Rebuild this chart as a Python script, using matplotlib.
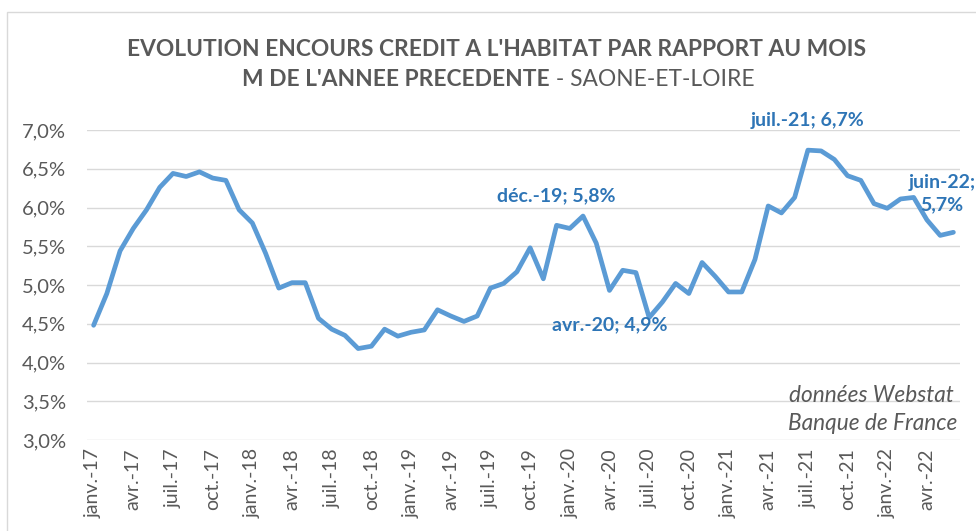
import numpy as np
import matplotlib
matplotlib.use("Agg")
import matplotlib.pyplot as plt
from matplotlib.patches import Rectangle
from matplotlib.ticker import FuncFormatter

# evolution mensuelle (%) janv.-17 -> juin-22
mois = ["janv.", "févr.", "mars", "avr.", "mai", "juin",
        "juil.", "août", "sept.", "oct.", "nov.", "déc."]
annees = ["17", "18", "19", "20", "21", "22"]
labels = [f"{m}-{a}" for a in annees for m in mois][:66]

valeurs = [4.48, 4.89, 5.44, 5.73, 5.97, 6.26, 6.44, 6.40, 6.46, 6.38, 6.35, 5.97,
           5.80, 5.41, 4.96, 5.03, 5.03, 4.57, 4.43, 4.35, 4.18, 4.21, 4.43, 4.34,
           4.39, 4.42, 4.68, 4.60, 4.53, 4.60, 4.96, 5.02, 5.17, 5.48, 5.08, 5.77,
           5.73, 5.89, 5.54, 4.93, 5.19, 5.16, 4.58, 4.78, 5.02, 4.89, 5.29, 5.11,
           4.91, 4.91, 5.33, 6.02, 5.93, 6.13, 6.74, 6.73, 6.62, 6.41, 6.35, 6.05,
           5.99, 6.11, 6.13, 5.84, 5.64, 5.68]

# points annotés : (index, texte)
annotations = [(35, "déc.-19; 5,8%"), (39, "avr.-20; 4,9%"),
               (54, "juil.-21; 6,7%"), (65, "juin-22;\n5,7%")]

gris = "#595959"
bleu = "#5B9BD5"
bleu_txt = "#2E75B6"
plt.rcParams["font.family"] = ["Lato", "DejaVu Sans"]

fig = plt.figure(figsize=(9.76, 5.31), dpi=100)
fig.patches.append(Rectangle((7 / 976, -0.1), 1.2, 1 - 12 / 531 + 0.1,
                             transform=fig.transFigure, fill=False,
                             edgecolor="#D9D9D9", linewidth=1))
ax = fig.add_axes([87 / 976, 1 - 440 / 531, (960 - 87) / 976, 310 / 531])

x = np.arange(len(valeurs))
ax.plot(x, valeurs, color=bleu, linewidth=3.4, solid_joinstyle="round",
        solid_capstyle="round", zorder=3)

ax.set_xlim(-0.5, len(valeurs) - 0.5)
ax.set_ylim(3.0, 7.0)
ax.set_yticks(np.arange(3.0, 7.01, 0.5))
ax.yaxis.set_major_formatter(FuncFormatter(lambda v, p: f"{v:.1f}%".replace(".", ",")))
ax.set_xticks(x[::3])
ax.set_xticklabels(labels[::3], rotation=90)
ax.tick_params(axis="both", length=0, colors=gris)
ax.tick_params(axis="x", pad=6, labelsize=14)
ax.tick_params(axis="y", pad=15, labelsize=14.5)
ax.grid(axis="y", color="#D9D9D9", linewidth=1)
ax.set_axisbelow(True)
for s in ax.spines.values():
    s.set_visible(False)

# étiquettes de données
decal = {35: (0, 21.5), 39: (0, -24.5), 54: (0, 21.5), 65: (-8, 28)}
for i, txt in annotations:
    dx, dy = decal[i]
    ax.annotate(txt, (x[i], valeurs[i]), xytext=(dx, dy), textcoords="offset points",
                ha="center", va="center", fontsize=14, fontweight="bold",
                color=bleu_txt, linespacing=1.35, annotation_clip=False)

# titre
fig.text(497 / 976, 1 - 49 / 531, "EVOLUTION ENCOURS CREDIT A L'HABITAT PAR RAPPORT AU MOIS",
         ha="center", va="center", fontsize=16.4, fontweight="bold", color=gris)
t_gras = fig.text(0, 1 - 80 / 531, "M DE L'ANNEE PRECEDENTE", ha="left", va="center",
                  fontsize=16.4, fontweight="bold", color=gris)
t_norm = fig.text(0, 1 - 80 / 531, " - SAONE-ET-LOIRE", ha="left", va="center",
                  fontsize=16.4, color=gris)
r = fig.canvas.get_renderer()
w1 = t_gras.get_window_extent(r).width
w2 = t_norm.get_window_extent(r).width
x0 = 498 - (w1 + w2) / 2
t_gras.set_x(x0 / 976)
t_norm.set_x((x0 + w1) / 976)

# source
fig.text(954 / 976, 1 - 395 / 531, "données Webstat", ha="right", va="center",
         fontsize=16.3, style="italic", color=gris)
fig.text(957 / 976, 1 - 423 / 531, "Banque de France", ha="right", va="center",
         fontsize=16.3, style="italic", color=gris)

fig.savefig("out.png", dpi=100)
